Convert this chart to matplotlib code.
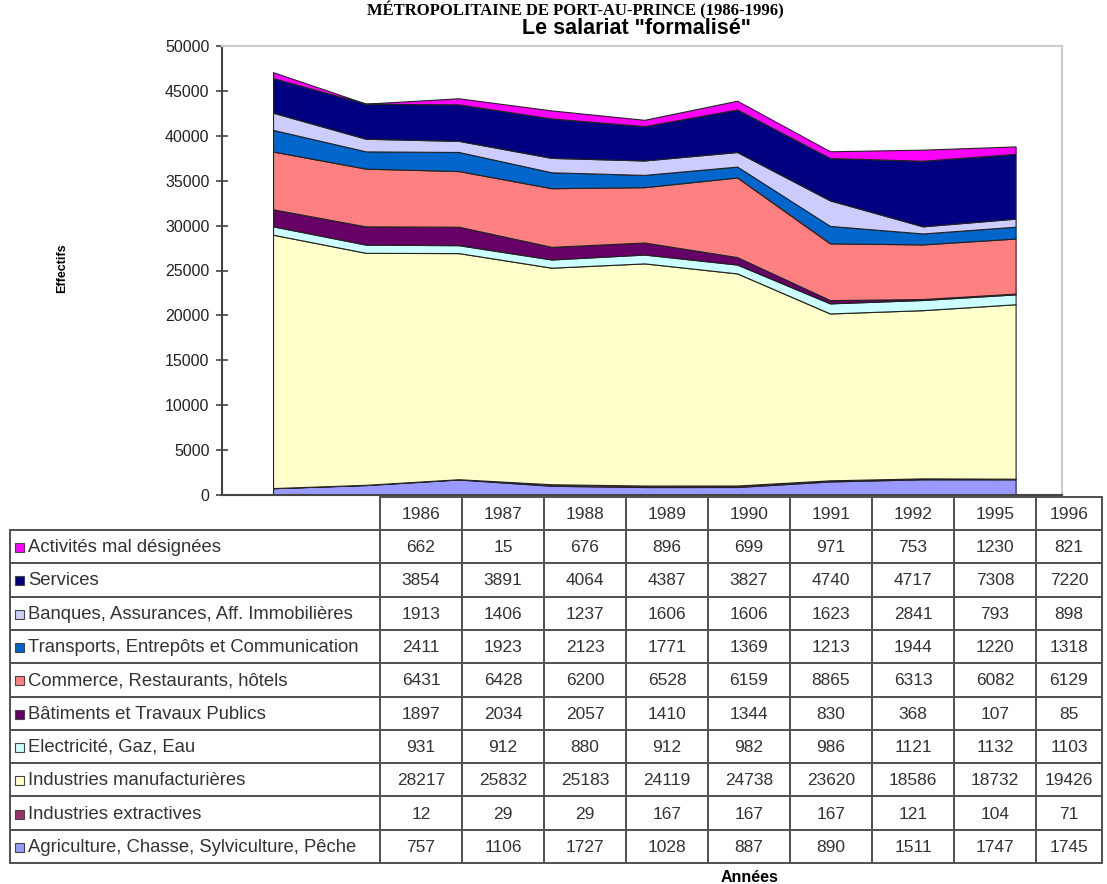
import numpy as np
import matplotlib
matplotlib.use('Agg')
from matplotlib import pyplot as plt
from matplotlib.patches import Rectangle

plt.rcParams['font.family'] = ['Liberation Sans', 'DejaVu Sans']

years = ['1986', '1987', '1988', '1989', '1990', '1991', '1992', '1995', '1996']

# series, bottom of the stack first
sectors = [
    'Agriculture, Chasse, Sylviculture, Pêche',
    'Industries extractives',
    'Industries manufacturières',
    'Electricité, Gaz, Eau',
    'Bâtiments et Travaux Publics',
    'Commerce, Restaurants, hôtels',
    'Transports, Entrepôts et Communication',
    'Banques, Assurances, Aff. Immobilières',
    'Services',
    'Activités mal désignées',
]
agriculture = [757, 1106, 1727, 1028, 887, 890, 1511, 1747, 1745]
extractives = [12, 29, 29, 167, 167, 167, 121, 104, 71]
manufacturieres = [28217, 25832, 25183, 24119, 24738, 23620, 18586, 18732, 19426]
electricite = [931, 912, 880, 912, 982, 986, 1121, 1132, 1103]
batiments = [1897, 2034, 2057, 1410, 1344, 830, 368, 107, 85]
commerce = [6431, 6428, 6200, 6528, 6159, 8865, 6313, 6082, 6129]
transports = [2411, 1923, 2123, 1771, 1369, 1213, 1944, 1220, 1318]
banques = [1913, 1406, 1237, 1606, 1606, 1623, 2841, 793, 898]
services = [3854, 3891, 4064, 4387, 3827, 4740, 4717, 7308, 7220]
mal_designees = [662, 15, 676, 896, 699, 971, 753, 1230, 821]

series = [agriculture, extractives, manufacturieres, electricite, batiments,
          commerce, transports, banques, services, mal_designees]
colors = ['#9999FF', '#993366', '#FFFFCC', '#CCFFFF', '#660066',
          '#FF8080', '#0066CC', '#CCCCFF', '#000080', '#FF00FF']

W, H = 1107, 884
fig = plt.figure(figsize=(W / 100, H / 100), dpi=100)

# chart area
ax = fig.add_axes([222 / W, 1 - 495 / H, (1062 - 222) / W, (495 - 46) / H])
x = np.arange(len(years))
ax.stackplot(x, *series, colors=colors, edgecolor='#222222', linewidth=0.8)
ax.set_xlim(-0.55, len(years) - 1 + 0.5)
ax.set_ylim(0, 50000)
ax.set_yticks(np.arange(0, 50001, 5000))
ax.set_xticks([])
ax.tick_params(axis='y', direction='inout', length=8, width=1.2, colors='#444444',
               labelsize=11.5, labelcolor='#222222', pad=5)
for s in ['top', 'right']:
    ax.spines[s].set_color('#cccccc')
    ax.spines[s].set_linewidth(1.5)
for s in ['left', 'bottom']:
    ax.spines[s].set_color('#444444')
    ax.spines[s].set_linewidth(1.5)

# overlay in pixel coordinates for titles and the data table
ov = fig.add_axes([0, 0, 1, 1], zorder=-1)
ov.set_xlim(0, W)
ov.set_ylim(H, 0)
ov.axis('off')

ov.text(575, 1, 'MÉTROPOLITAINE DE PORT-AU-PRINCE (1986-1996)', ha='center', va='top',
        fontsize=12, fontweight='bold', family=['Liberation Serif', 'DejaVu Serif'])
ov.text(637, 29, 'Le salariat "formalisé"', ha='center', va='center',
        fontsize=15.5, fontweight='bold')
ov.text(62, 268, 'Effectifs', ha='center', va='center', rotation=90,
        fontsize=9, fontweight='bold')
ov.text(750, 877, 'Années', ha='center', va='center', fontsize=11.5, fontweight='bold')

# table
line_c = '#505050'
lw = 1.4
col_edges = [380 + 82 * i for i in range(len(years))] + [1102]
head_top, head_bot = 497, 530
row_h = 33.3
nrows = len(sectors)
table_bot = head_bot + row_h * nrows
fs = 12.5

ov.plot([col_edges[0], col_edges[-1]], [head_top, head_top], color=line_c, lw=lw)
for cx in col_edges:
    ov.plot([cx, cx], [head_top, table_bot], color=line_c, lw=lw)
ov.plot([10, 10], [head_bot, table_bot], color=line_c, lw=lw)
for r in range(nrows + 1):
    yy = head_bot + r * row_h
    ov.plot([10, col_edges[-1]], [yy, yy], color=line_c, lw=lw)

for j, yr in enumerate(years):
    cxm = (col_edges[j] + col_edges[j + 1]) / 2
    ov.text(cxm, (head_top + head_bot) / 2 + 1, yr, ha='center', va='center',
            fontsize=fs, color='#333333')

# table rows: top row is the top of the stack
for r, idx in enumerate(range(nrows - 1, -1, -1)):
    yc = head_bot + r * row_h + row_h / 2 + 1
    ov.add_patch(Rectangle((15, yc - 4.5), 9, 9, facecolor=colors[idx],
                           edgecolor='#444444', lw=0.8))
    ov.text(28, yc, sectors[idx], ha='left', va='center', fontsize=13.3, color='#333333')
    for j, v in enumerate(series[idx]):
        cxm = (col_edges[j] + col_edges[j + 1]) / 2
        ov.text(cxm, yc, str(v), ha='center', va='center', fontsize=fs, color='#333333')

fig.savefig('out.png', dpi=100, facecolor='white')
